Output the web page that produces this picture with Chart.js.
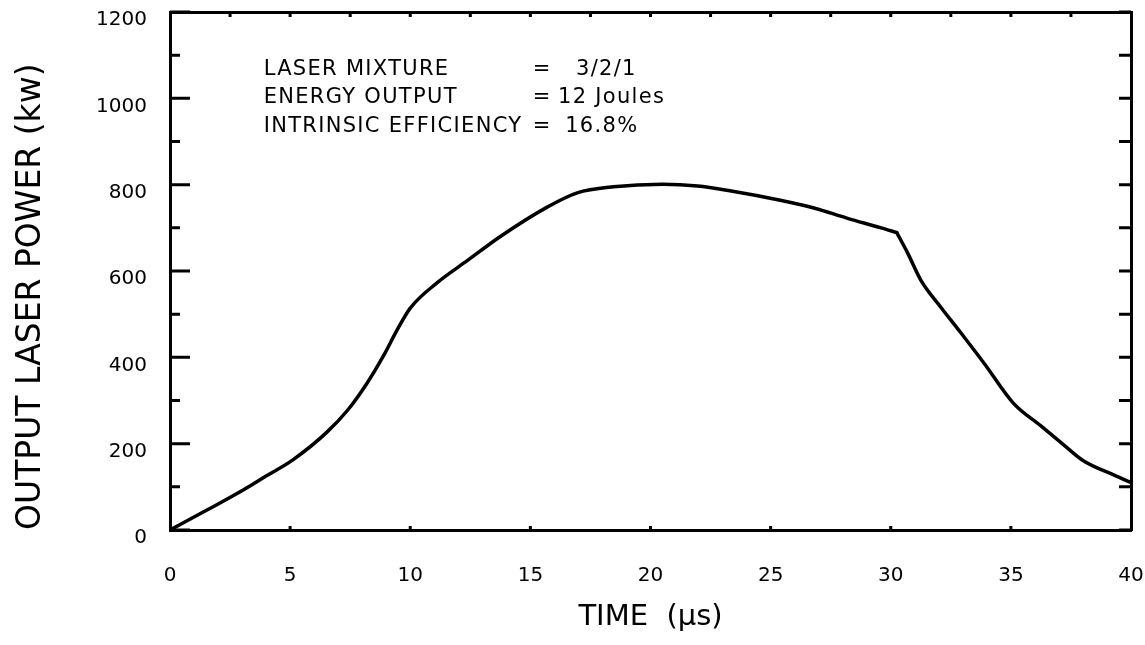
<!DOCTYPE html>
<html><head><meta charset="utf-8">
<script src="https://cdn.jsdelivr.net/npm/chart.js@4/dist/chart.umd.min.js"></script>
<style>html,body{margin:0;padding:0;background:#fff}#wrap{width:1145px;height:645px;position:relative}</style>
</head><body><div id="wrap"><canvas id="c" width="1145" height="645"></canvas></div>
<script>
// ---- data ----
const timeUs  = [0, 1.5, 2.9, 4, 5.1, 6.5, 7.4, 8.2, 8.9, 9.45, 10, 11.1, 12.4, 13.75, 15.7, 16.95, 18.46, 20.5, 21.96, 23.3, 25.4, 26.8, 28.2, 29.6, 30.25, 30.7, 31.25, 32.1, 32.9, 33.9, 35.1, 36.25, 37.1, 38, 39.3, 40];
const powerKw = [0, 45, 88, 125, 162, 225, 278, 340, 405, 463, 514, 572, 625, 680, 748, 781, 795, 801, 797, 786, 764, 746, 722, 700, 689, 642, 579, 515, 458, 385, 294, 241, 202, 161, 127, 110];
const kinkTime = 30.25;   // sharp corner where the pulse starts to fall
const xTickValues = [0, 5, 10, 15, 20, 25, 30, 35, 40];
const yTickValues = [0, 200, 400, 600, 800, 1000, 1200];
const yInnerTicks = [0, 100, 200, 300, 400, 500, 600, 700, 800, 900, 1000, 1100, 1200];
const xTopTicks = [2.5, 5, 7.5, 10, 12.5, 15, 17.5, 20, 22.5, 25, 27.5, 30, 32.5, 35, 37.5];
const xBottomTicks = [5, 10, 15, 20, 25, 30, 35];
const noteLabels = ['LASER MIXTURE', 'ENERGY OUTPUT', 'INTRINSIC EFFICIENCY'];
const noteValues = ['3/2/1', '12 Joules', '16.8%'];
const xTitle = 'TIME  (\u03bcs)';
const yTitle = 'OUTPUT LASER POWER (kw)';

const FONT = "'DejaVu Sans', 'Liberation Sans', sans-serif";

const points = timeUs.map((t, i) => ({x: t, y: powerKw[i]}));
const kinkIdx = timeUs.indexOf(kinkTime);
const seg = pts => ({
  data: pts, borderColor: '#000', borderWidth: 3.5, pointRadius: 0,
  cubicInterpolationMode: 'monotone', fill: false, borderCapStyle: 'round', borderJoinStyle: 'round'
});

const zeroPad = s => { s.paddingLeft = 0; s.paddingRight = 0; s.paddingTop = 0; s.paddingBottom = 0; };

const innerTicks = {
  id: 'innerTicks',
  afterDraw(chart) {
    const {ctx, chartArea: a, scales: {x, y}} = chart;
    ctx.save();
    ctx.strokeStyle = '#000';
    ctx.lineWidth = 3;
    ctx.beginPath();
    yInnerTicks.forEach(v => {
      const p = y.getPixelForValue(v);
      const major = v % 200 === 0;
      ctx.moveTo(a.left, p); ctx.lineTo(a.left + (major ? 20 : 10), p);
      ctx.moveTo(a.right, p); ctx.lineTo(a.right - 12, p);
    });
    xTopTicks.forEach(v => {
      const p = x.getPixelForValue(v);
      ctx.moveTo(p, a.top); ctx.lineTo(p, a.top + 5);
    });
    xBottomTicks.forEach(v => {
      const p = x.getPixelForValue(v);
      ctx.moveTo(p, a.bottom); ctx.lineTo(p, a.bottom - 4);
    });
    ctx.stroke();
    ctx.restore();
  }
};

const notes = {
  id: 'notes',
  afterDraw(chart) {
    const {ctx, scales: {x, y}} = chart;
    ctx.save();
    ctx.fillStyle = '#000';
    ctx.font = '21px ' + FONT;
    ctx.textBaseline = 'middle';
    ctx.textAlign = 'left';
    try { ctx.letterSpacing = '1.3px'; } catch (e) {}
    const rows = [1066, 1001, 935];
    const valX = [16.9, 16.15, 16.45];
    noteLabels.forEach((t, i) => {
      const py = y.getPixelForValue(rows[i]);
      ctx.fillText(t, x.getPixelForValue(3.9), py);
      ctx.fillText('=', x.getPixelForValue(15.1), py);
      ctx.fillText(noteValues[i], x.getPixelForValue(valX[i]), py);
    });
    ctx.restore();
  }
};

new Chart(document.getElementById('c'), {
  type: 'line',
  data: {
    datasets: [seg(points.slice(0, kinkIdx + 1)), seg(points.slice(kinkIdx))]
  },
  options: {
    responsive: false,
    animation: false,
    events: [],
    layout: {autoPadding: false, padding: {top: 12, right: 14, left: 0, bottom: 0}},
    plugins: {legend: {display: false}, tooltip: {enabled: false}},
    scales: {
      x: {
        type: 'linear', position: 'bottom', min: 0, max: 40,
        afterBuildTicks: s => { s.ticks = xTickValues.map(v => ({value: v})); },
        afterFit: s => { s.height = 115; zeroPad(s); },
        grid: {display: false, drawTicks: false},
        border: {display: true, color: '#000', width: 3},
        ticks: {padding: 34, color: '#000', maxRotation: 0, font: {family: FONT, size: 20}, callback: v => String(v)},
        title: {display: true, text: xTitle, color: '#000', font: {family: FONT, size: 29}, padding: {top: 0, bottom: 10}}
      },
      y: {
        type: 'linear', position: 'left', min: 0, max: 1200,
        afterBuildTicks: s => { s.ticks = yTickValues.map(v => ({value: v})); },
        afterFit: s => { s.width = 170; zeroPad(s); },
        grid: {display: false, drawTicks: false},
        border: {display: true, color: '#000', width: 3},
        ticks: {padding: 23, labelOffset: 8, color: '#000', font: {family: FONT, size: 20}, callback: v => String(v)},
        title: {display: true, text: yTitle, align: 'start', color: '#000', font: {family: FONT, size: 33}, padding: {top: 12, bottom: 0}}
      },
      x2: {
        type: 'linear', position: 'top', min: 0, max: 40,
        afterFit: s => { s.height = 0; zeroPad(s); },
        grid: {display: false, drawTicks: false},
        border: {display: true, color: '#000', width: 3},
        ticks: {display: false}
      },
      y2: {
        type: 'linear', position: 'right', min: 0, max: 1200,
        afterFit: s => { s.width = 0; zeroPad(s); },
        grid: {display: false, drawTicks: false},
        border: {display: true, color: '#000', width: 3},
        ticks: {display: false}
      }
    }
  },
  plugins: [innerTicks, notes]
});
</script>
</body></html>
